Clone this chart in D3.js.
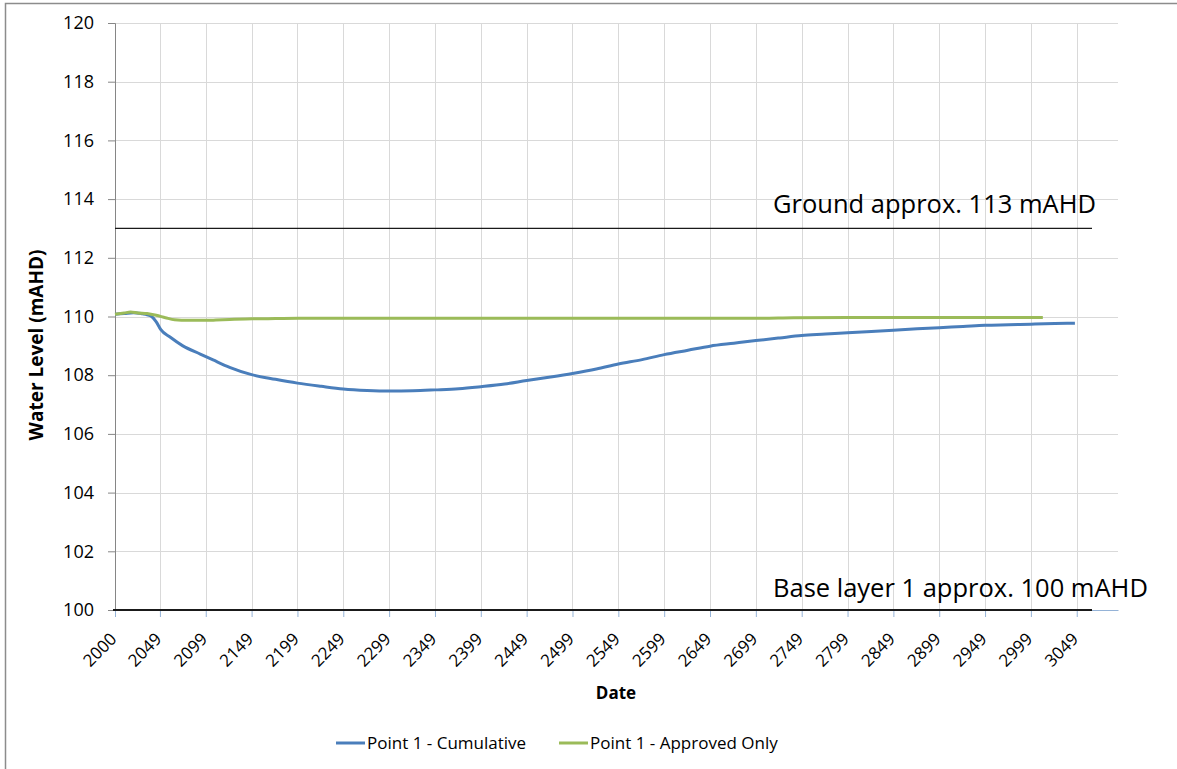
<!DOCTYPE html>
<html>
<head>
<meta charset="utf-8">
<script src="https://cdn.jsdelivr.net/npm/d3@7"></script>
<style>
  html, body { margin: 0; padding: 0; background: #ffffff; }
  svg { display: block; font-family: "Open Sans", Lato, sans-serif; }
</style>
</head>
<body>
<svg id="chart" width="1177" height="769"></svg>
<script>
// Modelled water level at Point 1 (mAHD) by year
const cumulativeYears = [2000, 2010, 2020, 2030, 2035, 2040, 2045, 2050, 2060, 2074, 2093, 2107, 2125, 2149, 2175, 2199,
  2225, 2249, 2275, 2299, 2325, 2349, 2375, 2399, 2425, 2449, 2475, 2499, 2525, 2549, 2575, 2599,
  2625, 2649, 2675, 2699, 2725, 2749, 2775, 2799, 2825, 2849, 2875, 2899, 2925, 2949, 2975, 2999, 3025, 3047];
const cumulativeLevels = [110.08, 110.10, 110.13, 110.09, 110.06, 110.00, 109.82, 109.55, 109.30, 109.00, 108.72, 108.52, 108.27, 108.02, 107.86, 107.73,
  107.62, 107.53, 107.48, 107.46, 107.47, 107.50, 107.54, 107.61, 107.70, 107.82, 107.94, 108.06, 108.21, 108.38, 108.53, 108.70,
  108.85, 108.99, 109.09, 109.18, 109.27, 109.35, 109.40, 109.45, 109.49, 109.53, 109.58, 109.62, 109.66, 109.70, 109.72, 109.74, 109.76, 109.77];

const approvedYears = [2000, 2010, 2017, 2025, 2035, 2045, 2055, 2065, 2080, 2100, 2110, 2125, 2150, 2175, 2200,
  2300, 2400, 2500, 2600, 2700, 2740, 2800, 2900, 3012];
const approvedLevels = [110.08, 110.12, 110.15, 110.12, 110.10, 110.04, 109.96, 109.89, 109.87, 109.87, 109.88, 109.90, 109.92, 109.93, 109.94,
  109.94, 109.94, 109.94, 109.94, 109.94, 109.96, 109.97, 109.97, 109.97];

const xTickLabels = ["2000", "2049", "2099", "2149", "2199", "2249", "2299", "2349", "2399", "2449", "2499",
  "2549", "2599", "2649", "2699", "2749", "2799", "2849", "2899", "2949", "2999", "3049"];
const yTickValues = [100, 102, 104, 106, 108, 110, 112, 114, 116, 118, 120];

const seriesNames = ["Point 1 - Cumulative", "Point 1 - Approved Only"];
const seriesColors = ["#4a7ebb", "#9bbb59"];

const groundLevel = 113;
const baseLevel = 100;
const groundLabel = "Ground approx. 113 mAHD";
const baseLabel = "Base layer 1 approx. 100 mAHD";

const svg = d3.select("#chart");

// outer chart frame
svg.append("rect")
  .attr("x", 5.5).attr("y", 3.5)
  .attr("width", 1300).attr("height", 900)
  .attr("fill", "#ffffff").attr("stroke", "#8c8c8c").attr("stroke-width", 1.5);

const plot = { left: 115, right: 1118, top: 23, bottom: 610 };

const x = d3.scaleLinear().domain([2000, 3094]).range([plot.left, plot.right]);
const y = d3.scaleLinear().domain([100, 120]).range([plot.bottom, plot.top]);

const xTickValues = xTickLabels.map(Number);

// gridlines
svg.append("g")
  .selectAll("line")
  .data(yTickValues.filter(v => v !== 100))
  .join("line")
  .attr("x1", plot.left).attr("x2", plot.right)
  .attr("y1", d => Math.round(y(d)) + 0.5).attr("y2", d => Math.round(y(d)) + 0.5)
  .attr("stroke", "#d9d9d9").attr("stroke-width", 1);

svg.append("g")
  .selectAll("line")
  .data(xTickValues.slice(1))
  .join("line")
  .attr("x1", d => Math.round(x(d)) + 0.5).attr("x2", d => Math.round(x(d)) + 0.5)
  .attr("y1", plot.top).attr("y2", plot.bottom)
  .attr("stroke", "#d9d9d9").attr("stroke-width", 1);

// y axis
const yAxis = svg.append("g")
  .attr("transform", `translate(${plot.left},0)`)
  .call(d3.axisLeft(y).tickValues(yTickValues).tickSize(7).tickPadding(14).tickFormat(d3.format("d")));
yAxis.select(".domain").attr("stroke", "#868686");
yAxis.selectAll(".tick line").attr("stroke", "#868686");
yAxis.selectAll(".tick text")
  .attr("fill", "#000").attr("font-size", 18)
  .attr("font-family", "'Open Sans', sans-serif");

// x axis
const xAxis = svg.append("g")
  .attr("transform", `translate(0,${plot.bottom})`)
  .call(d3.axisBottom(x).tickValues(xTickValues).tickSize(7).tickSizeOuter(0)
    .tickFormat((d, i) => xTickLabels[i]));
xAxis.select(".domain").attr("stroke", "#95b3d7");
xAxis.selectAll(".tick line").attr("stroke", "#95b3d7");
xAxis.selectAll(".tick text")
  .attr("fill", "#000").attr("font-size", 17)
  .attr("font-family", "'Open Sans', sans-serif")
  .attr("text-anchor", "end")
  .attr("transform", "translate(-2,26) rotate(-45)")
  .attr("dy", "0.35em").attr("y", 0).attr("x", 0);

// reference levels
const refX2 = 1092;
svg.append("line")
  .attr("x1", plot.left).attr("x2", refX2)
  .attr("y1", y(groundLevel)).attr("y2", y(groundLevel))
  .attr("stroke", "#1a1a1a").attr("stroke-width", 1.2);
svg.append("line")
  .attr("x1", plot.left - 2).attr("x2", refX2)
  .attr("y1", y(baseLevel)).attr("y2", y(baseLevel))
  .attr("stroke", "#1a1a1a").attr("stroke-width", 1.8);

svg.append("text")
  .attr("x", 773).attr("y", 213)
  .attr("font-size", 25.5).attr("fill", "#000")
  .text(groundLabel);
svg.append("text")
  .attr("x", 773).attr("y", 597)
  .attr("font-size", 25.5).attr("fill", "#000")
  .text(baseLabel);

// series lines
const line = d3.line().x(d => x(d[0])).y(d => y(d[1])).curve(d3.curveMonotoneX);
const series = [
  d3.zip(cumulativeYears, cumulativeLevels),
  d3.zip(approvedYears, approvedLevels)
];
svg.append("g")
  .selectAll("path")
  .data(series)
  .join("path")
  .attr("d", line)
  .attr("fill", "none")
  .attr("stroke", (d, i) => seriesColors[i])
  .attr("stroke-width", 3)
  .attr("stroke-linejoin", "round");

// axis titles
svg.append("text")
  .attr("transform", "translate(43,345) rotate(-90)")
  .attr("text-anchor", "middle")
  .attr("font-size", 19).attr("font-weight", "bold")
  .text("Water Level (mAHD)");
svg.append("text")
  .attr("x", 616).attr("y", 699)
  .attr("text-anchor", "middle")
  .attr("font-size", 17).attr("font-weight", "bold")
  .text("Date");

// legend
const legendX = [336, 559];
const legend = svg.append("g")
  .selectAll("g")
  .data(seriesNames)
  .join("g")
  .attr("transform", (d, i) => `translate(${legendX[i]},743)`);
legend.append("line")
  .attr("x1", 0).attr("x2", 29).attr("y1", 0).attr("y2", 0)
  .attr("stroke", (d, i) => seriesColors[i]).attr("stroke-width", 3);
legend.append("text")
  .attr("x", 31).attr("y", 0).attr("dy", "0.35em")
  .attr("font-size", 17).attr("fill", "#000")
  .text(d => d);
</script>
</body>
</html>
